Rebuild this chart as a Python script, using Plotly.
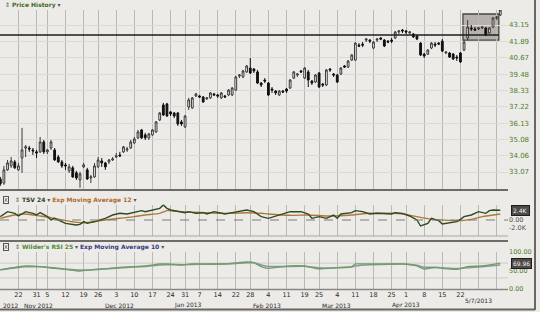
import math
import pandas as pd
import plotly.graph_objects as go

# ---------------- data ----------------
holidays = ["2012-10-29", "2012-10-30", "2012-11-22", "2012-12-25",
            "2013-01-01", "2013-01-21", "2013-02-18", "2013-03-29"]
dates = [d.strftime("%Y-%m-%d") for d in pd.bdate_range("2012-10-15", "2013-05-07")
         if d.strftime("%Y-%m-%d") not in holidays]

opens = [32.66, 32.42, 33.20, 33.44, 33.68, 33.20, 33.92, 34.54, 34.54, 34.42,
         34.30, 34.30, 34.92, 34.30, 34.54, 34.42, 33.98, 33.68, 33.50, 33.14,
         33.32, 33.02, 32.60, 33.38, 33.20, 32.72, 32.78, 33.38, 33.74, 33.62,
         33.68, 33.80, 33.98, 34.11, 34.30, 34.42, 34.54, 34.86, 35.18, 35.69,
         35.37, 35.18, 35.37, 35.56, 36.34, 37.34, 37.41, 36.87, 36.80, 36.80,
         36.21, 35.88, 37.20, 37.14, 37.95, 37.95, 37.88, 37.75, 37.82, 38.09,
         38.02, 37.82, 37.95, 38.02, 38.02, 38.36, 39.35, 39.28, 39.64, 39.92,
         39.85, 39.64, 38.85, 39.06, 38.85, 38.43, 38.29, 38.02, 38.29, 38.43,
         38.50, 39.20, 39.42, 39.71, 39.20, 39.64, 38.99, 38.92, 39.56, 38.78,
         38.71, 39.85, 39.49, 39.42, 39.49, 40.07, 39.99, 40.50, 40.50, 41.61,
         41.69, 41.99, 41.99, 41.39, 41.99, 42.15, 41.99, 41.91, 41.99, 42.15,
         42.61, 42.76, 42.69, 42.53, 42.46, 42.30, 41.76, 40.94, 40.94, 41.39,
         41.69, 41.76, 41.91, 41.02, 41.02, 40.94, 40.72, 41.02, 41.24, 42.15,
         42.92, 42.84, 42.84, 42.92, 42.92, 42.53, 42.99, 43.70, 43.94]
highs = [32.78, 33.44, 33.80, 33.98, 33.80, 33.62, 35.82, 34.73, 34.67, 34.54,
         34.42, 35.24, 35.05, 34.48, 35.05, 34.54, 34.11, 33.80, 33.62, 33.56,
         33.44, 33.14, 33.08, 33.62, 33.32, 32.90, 33.62, 33.98, 33.92, 33.68,
         33.86, 33.98, 34.23, 34.30, 34.67, 34.61, 35.05, 35.24, 35.69, 35.75,
         35.50, 35.50, 35.75, 36.27, 36.87, 37.48, 37.48, 36.93, 36.87, 36.87,
         36.34, 36.67, 37.82, 37.88, 38.16, 38.02, 37.95, 37.88, 38.22, 38.16,
         38.09, 38.22, 38.02, 38.43, 38.57, 39.35, 39.49, 39.78, 40.14, 40.65,
         39.92, 39.78, 38.92, 39.20, 38.92, 38.57, 38.36, 38.36, 38.36, 38.50,
         39.13, 39.71, 39.56, 39.78, 39.99, 39.78, 39.06, 39.49, 39.64, 38.85,
         39.85, 39.92, 39.56, 39.49, 39.99, 40.14, 40.50, 40.94, 41.84, 41.76,
         41.84, 42.15, 42.07, 41.91, 42.15, 42.22, 42.07, 41.99, 42.15, 42.69,
         42.76, 42.84, 42.76, 42.69, 42.53, 42.38, 41.84, 41.02, 41.31, 41.84,
         41.84, 41.84, 42.07, 41.16, 41.09, 41.02, 40.87, 41.09, 41.99, 43.54,
         43.15, 42.99, 42.99, 43.07, 42.99, 42.99, 43.78, 43.86, 44.42]
lows = [32.25, 32.31, 33.14, 33.32, 33.26, 33.14, 33.02, 33.98, 34.30, 34.11,
        33.92, 34.23, 34.17, 34.17, 34.42, 33.74, 33.62, 33.32, 33.20, 33.02,
        32.72, 32.60, 32.14, 33.32, 32.60, 32.42, 32.72, 33.32, 33.38, 33.20,
        33.56, 33.74, 33.92, 33.98, 34.23, 34.30, 34.48, 34.80, 35.11, 35.11,
        35.05, 35.05, 35.31, 35.50, 36.27, 36.60, 36.54, 36.60, 36.47, 35.95,
        35.95, 35.82, 37.00, 37.07, 37.88, 37.82, 37.48, 37.68, 37.75, 37.95,
        37.82, 37.75, 37.82, 37.95, 37.95, 38.29, 39.20, 39.20, 39.56, 39.49,
        39.56, 38.78, 38.57, 38.85, 37.95, 38.16, 38.02, 37.95, 38.16, 38.16,
        38.43, 39.13, 39.28, 39.56, 39.13, 38.57, 38.71, 38.85, 38.50, 38.57,
        38.64, 39.64, 39.28, 38.85, 39.42, 39.92, 39.92, 40.43, 40.43, 41.46,
        41.46, 41.84, 41.76, 41.31, 41.84, 41.99, 41.46, 41.76, 41.76, 42.07,
        42.46, 42.53, 42.46, 42.46, 42.15, 41.99, 40.80, 40.65, 40.87, 41.31,
        41.46, 41.61, 41.09, 40.94, 40.65, 40.50, 40.43, 40.29, 41.16, 41.99,
        42.69, 42.69, 42.76, 42.84, 42.30, 42.46, 42.92, 43.54, 43.86]
closes = [32.37, 33.20, 33.62, 33.74, 33.32, 33.44, 34.42, 34.61, 34.48, 34.36,
          34.23, 34.92, 34.30, 34.42, 34.92, 33.80, 33.68, 33.44, 33.44, 33.38,
          32.78, 32.72, 32.96, 33.50, 32.66, 32.78, 33.44, 33.80, 33.62, 33.38,
          33.80, 33.86, 34.05, 34.05, 34.61, 34.48, 34.92, 35.11, 35.56, 35.18,
          35.18, 35.43, 35.69, 36.21, 36.80, 36.67, 36.60, 36.74, 36.60, 36.08,
          36.08, 36.60, 37.68, 37.82, 38.09, 37.88, 37.54, 37.82, 38.16, 38.02,
          37.95, 38.16, 37.88, 38.36, 38.50, 39.28, 39.42, 39.71, 40.07, 39.56,
          39.71, 38.85, 38.71, 38.99, 38.02, 38.36, 38.16, 38.29, 38.22, 38.29,
          39.06, 39.64, 39.49, 39.64, 39.92, 39.06, 38.85, 39.42, 38.57, 38.71,
          39.78, 39.78, 39.42, 38.92, 39.92, 39.99, 40.43, 40.87, 41.76, 41.54,
          41.61, 42.07, 41.91, 41.84, 42.07, 42.07, 41.54, 41.84, 41.91, 42.61,
          42.69, 42.69, 42.61, 42.61, 42.23, 42.07, 40.87, 40.80, 41.24, 41.76,
          41.61, 41.69, 41.16, 41.09, 40.72, 40.58, 40.65, 40.36, 41.84, 42.99,
          42.84, 42.76, 42.92, 42.99, 42.38, 42.92, 43.70, 43.78, 44.34]

price_ticks = [33.07, 34.06, 35.08, 36.13, 37.22, 38.33, 39.48, 40.67, 41.89, 43.15]
resistance_level = 42.38
box_idx = (127.7, 137.6)
box_price = (41.99, 44.02)

# TSV 24 (thousands) and its 12-period EMA, sampled at trading-day indices
tsv_idx = [0, 2, 4, 5, 7, 9, 10, 11, 13, 14, 15, 17, 18, 21, 22, 23, 24, 26, 28, 29,
           31, 33, 35, 37, 39, 40, 42, 44, 45, 46, 47, 49, 51, 52, 54, 56, 57, 59, 61, 62,
           64, 66, 68, 70, 72, 74, 77, 80, 83, 85, 86, 88, 90, 92, 93, 94, 97, 98, 100, 102,
           104, 106, 108, 109, 111, 113, 115, 116, 118, 119, 121, 122, 124, 126, 127, 128,
           130, 132, 134, 135, 136, 138]
tsv_k = [0.83, 2.08, 1.67, 1.0, 2.08, 1.67, 1.25, 1.83, 0.83, 0.0,
         0.42, -0.42, -0.83, -1.25, -1.08, -0.42, -0.83, -0.42, 0.17, 0.42,
         1.25, 1.67, 1.5, 1.83, 2.33, 2.08, 2.5, 2.92, 3.75, 2.92,
         2.5, 2.08, 1.83, 2.08, 1.67, 1.83, 1.5, 2.08, 1.67, 1.5,
         1.83, 2.08, 2.5, 2.08, 0.83, 0.42, 1.25, 2.08, 2.08, 1.5,
         0.42, 0.83, 0.42, 1.25, 0.42, 1.5, 1.83, 2.33, 2.08, 1.5,
         1.67, 1.5, 1.5, 1.83, 1.67, 1.0, 0.0, -1.5, -0.83, 0.42,
         -0.17, -1.0, -0.67, -0.42, 0.17, 0.83, 1.25, 2.08, 1.67, 2.33,
         2.5, 2.45]
tsv_ema_idx = [0, 4, 7, 11, 15, 18, 22, 26, 29, 33, 37, 40, 44, 46, 50, 53, 57, 61,
               64, 68, 72, 74, 80, 85, 91, 97, 102, 108, 111, 115, 119, 122, 126, 130, 133, 138]
tsv_ema_k = [0.42, 1.25, 1.5, 1.0, 0.42, -0.17, -0.67, -0.42, 0.0, 0.42,
             0.83, 1.25, 1.67, 2.33, 2.08, 1.92, 1.83, 1.67, 1.67, 1.83,
             1.67, 1.5, 1.17, 1.25, 1.0, 1.25, 1.67, 1.67, 1.5, 0.83,
             0.17, 0.0, -0.17, 0.17, 0.83, 1.5]
tsv_last_label = "2.4K"

# Wilder's RSI 25 and its 10-period EMA
rsi_idx = [0, 4, 7, 11, 15, 18, 22, 26, 29, 33, 37, 40, 44, 46, 50, 53, 57, 61, 64, 68,
           70, 72, 74, 80, 84, 88, 93, 97, 98, 102, 108, 111, 115, 117, 120, 122, 126, 129, 133, 138]
rsi_vals = [51.4, 58.6, 62.2, 60.4, 55.9, 53.2, 48.6, 53.2, 55.0, 58.6,
            60.4, 62.2, 67.6, 67.6, 64.9, 67.6, 67.6, 67.6, 69.4, 73.0,
            71.2, 60.4, 55.9, 62.2, 62.2, 54.1, 57.7, 60.4, 67.6, 67.6,
            67.6, 67.6, 62.2, 54.1, 58.6, 55.9, 53.2, 60.4, 62.2, 69.96]
rsi_ema_vals = [52, 57, 60, 60, 57, 54, 51, 52, 54, 57,
                59.5, 61, 65, 66, 65.5, 66.5, 67, 67.5, 68.5, 71,
                71, 65, 61, 61, 61.5, 57, 57.5, 59.5, 62, 65.5,
                67, 67.5, 64, 59, 58.5, 57.5, 55, 57.5, 60.5, 65]
rsi_last_label = "69.96"

week_dates = ["2012-10-22", "2012-10-31", "2012-11-05", "2012-11-12", "2012-11-19", "2012-11-26",
              "2012-12-03", "2012-12-10", "2012-12-17", "2012-12-24", "2012-12-31", "2013-01-07",
              "2013-01-14", "2013-01-22", "2013-01-28", "2013-02-04", "2013-02-11", "2013-02-19",
              "2013-02-25", "2013-03-04", "2013-03-11", "2013-03-18", "2013-03-25", "2013-04-01",
              "2013-04-08", "2013-04-15", "2013-04-22", "2013-04-29", "2013-05-06"]
week_labels = ["22", "31", "5", "12", "19", "26", "3", "10", "17", "24", "31", "7", "14", "22",
               "28", "4", "11", "19", "25", "4", "11", "18", "25", "1", "8", "15", "22", "", ""]
month_labels = ["Nov 2012", "Dec 2012", "Jan 2013", "Feb 2013", "Mar 2013", "Apr 2013"]
month_px = [38, 119, 188, 267, 336, 406]
first_year_label = "2012"
current_date_label = "5/7/2013"

# ---------------- layout helpers ----------------
W, H = 540, 312
PW = 508  # plot area width


def py(p):
    return 1 - p / H


def px(p):
    return p / PW


BG = "#ecebe8"
FONT = "DejaVu Sans"
GRIDV = "#bcb9b5"
GREEN = "#4f7d2e"

fig = go.Figure()

fig.add_trace(go.Candlestick(
    x=dates, open=opens, high=highs, low=lows, close=closes,
    increasing=dict(fillcolor="#f6f5f3", line=dict(color="#3a3a3a", width=1)),
    decreasing=dict(fillcolor="#111111", line=dict(color="#111111", width=1)),
    whiskerwidth=0, xaxis="x", yaxis="y", showlegend=False, hoverinfo="skip"))

fig.add_trace(go.Scatter(x=[dates[i] for i in tsv_ema_idx], y=tsv_ema_k, mode="lines",
                         line=dict(color="#b07838", width=1.4, shape="spline", smoothing=0.6),
                         xaxis="x2", yaxis="y2", showlegend=False))
fig.add_trace(go.Scatter(x=[dates[i] for i in tsv_idx], y=tsv_k, mode="lines",
                         line=dict(color="#2f4a22", width=1.4),
                         xaxis="x2", yaxis="y2", showlegend=False))

fig.add_trace(go.Scatter(x=[dates[i] for i in rsi_idx], y=rsi_ema_vals, mode="lines",
                         line=dict(color="#8d979b", width=1.6, shape="spline", smoothing=0.6),
                         xaxis="x3", yaxis="y3", showlegend=False))
fig.add_trace(go.Scatter(x=[dates[i] for i in rsi_idx], y=rsi_vals, mode="lines",
                         line=dict(color="#6f9e69", width=1.3, shape="spline", smoothing=0.4),
                         xaxis="x3", yaxis="y3", showlegend=False))

xcommon = dict(type="category", categoryorder="array", categoryarray=dates,
               tickvals=week_dates, showgrid=True, gridcolor=GRIDV, gridwidth=1,
               zeroline=False, showline=False, ticks="", fixedrange=True)

fig.update_layout(
    width=W, height=H, margin=dict(l=0, r=W - PW, t=0, b=0, autoexpand=False),
    paper_bgcolor=BG, plot_bgcolor=BG,
    font=dict(family=FONT, size=7, color="#333"),
    xaxis=dict(domain=[0, 1], anchor="y", range=[-0.08, 140.13], showticklabels=False,
               rangeslider=dict(visible=False), **xcommon),
    xaxis2=dict(domain=[0, 1], anchor="y2", matches="x", showticklabels=False, **xcommon),
    xaxis3=dict(domain=[0, 1], anchor="y3", matches="x", ticktext=week_labels,
                tickfont=dict(size=6.5, color="#2a2a2a", family=FONT), tickangle=0, **xcommon),
    yaxis=dict(domain=[py(189), py(10)], type="log",
               range=[math.log10(32.07), math.log10(44.34)], side="right",
               tickvals=price_ticks, ticktext=[f"{v:.2f}" for v in price_ticks],
               tickfont=dict(size=7, color=GREEN, family=FONT),
               showgrid=True, gridcolor="#dddbd7", zeroline=False, ticks="", fixedrange=True),
    yaxis2=dict(domain=[py(236), py(204.6)], range=[-4.0, 3.85], side="right",
                tickvals=[0, -2], ticktext=["0.00", "-2.0K"],
                tickfont=dict(size=6.5, color="#555", family=FONT),
                showgrid=False, zeroline=False, ticks="", fixedrange=True),
    yaxis3=dict(domain=[py(289), py(252)], range=[0, 100], side="right",
                tickvals=[0, 50, 100], ticktext=["0.00", "50.00", "100.00"],
                tickfont=dict(size=6.5, color=GREEN, family=FONT),
                showgrid=False, zeroline=False, ticks="", fixedrange=True),
)

shapes = []
# price panel: resistance line and highlight box
shapes.append(dict(type="line", xref="x", yref="y", x0=-0.1, x1=box_idx[1],
                   y0=resistance_level, y1=resistance_level,
                   line=dict(color="#1e1e1e", width=1.5)))
shapes.append(dict(type="rect", xref="x", yref="y", x0=box_idx[0], x1=box_idx[1],
                   y0=box_price[0], y1=box_price[1],
                   fillcolor="rgba(95,85,75,0.38)", line=dict(color="#4a4540", width=1.3),
                   layer="below"))
# TSV zero line
shapes.append(dict(type="line", xref="paper", yref="y2", x0=0, x1=1, y0=0, y1=0,
                   line=dict(color="#7d7a76", width=1, dash="dash")))
# RSI guide lines
for lv in (30, 70):
    shapes.append(dict(type="line", xref="paper", yref="y3", x0=0, x1=1, y0=lv, y1=lv,
                       line=dict(color="#cfccc8", width=1), layer="below"))
# panel separators
for yy, col, wd in [(190, "#6f6b67", 2), (236, "#a9a6a2", 1), (241, "#6f6b67", 2), (289.5, "#8a8783", 1.5)]:
    shapes.append(dict(type="line", xref="paper", yref="paper", x0=0, x1=1,
                       y0=py(yy), y1=py(yy), line=dict(color=col, width=wd)))
# screenshot frame shadow
shapes.append(dict(type="line", xref="paper", yref="paper", x0=px(535), x1=px(535),
                   y0=py(0), y1=py(310), line=dict(color="#6a6663", width=2)))
shapes.append(dict(type="line", xref="paper", yref="paper", x0=px(0), x1=px(535),
                   y0=py(309.5), y1=py(309.5), line=dict(color="#6a6663", width=2)))
fig.update_layout(shapes=shapes)

ann = []


def header(x, y, html):
    ann.append(dict(xref="paper", yref="paper", x=px(x), y=py(y), xanchor="left",
                    yanchor="middle", showarrow=False, text=html,
                    font=dict(family=FONT, size=6, color="#555")))


header(3, 5, "⇕ <b><span style='color:#3f6a22'>Price History</span></b> ▾")
header(13, 200, "⇕ <b><span style='color:#2e3b26'>TSV 24</span></b> ▾ "
               "<b><span style='color:#b06a2a'>Exp Moving Average 12</span></b> ▾")
header(13, 247, "⇕ <b><span style='color:#4c8a36'>Wilder's RSI 25</span></b> ▾ "
               "<b><span style='color:#3a3a82'>Exp Moving Average 10</span></b> ▾")
for yy in (200, 247):
    ann.append(dict(xref="paper", yref="paper", x=px(3), y=py(yy), xanchor="left",
                    yanchor="middle", showarrow=False, text="X",
                    font=dict(family=FONT, size=5.5, color="#333"),
                    bordercolor="#555", borderwidth=1, borderpad=0, bgcolor="#f4f3f1"))

ann.append(dict(xref="paper", yref="paper", x=px(0.5), y=py(305), xanchor="left",
                yanchor="middle", showarrow=False, text=first_year_label,
                font=dict(family=FONT, size=6, color="#2a2a2a")))
for lab, mx in zip(month_labels, month_px):
    ann.append(dict(xref="paper", yref="paper", x=px(mx), y=py(305), xanchor="center",
                    yanchor="middle", showarrow=False, text=lab,
                    font=dict(family=FONT, size=6, color="#2a2a2a")))
ann.append(dict(xref="paper", yref="paper", x=px(478), y=py(300), xanchor="center",
                yanchor="middle", showarrow=False, text=current_date_label,
                font=dict(family=FONT, size=6, color="#2a2a2a")))

# current value boxes
ann.append(dict(xref="paper", yref="y2", x=px(511), y=2.45, xanchor="left", yanchor="middle",
                showarrow=False, text=tsv_last_label, bgcolor="#4d4a47", bordercolor="#1e1e1e",
                borderwidth=1, borderpad=1, font=dict(family=FONT, size=6, color="#f2f2f2")))
ann.append(dict(xref="paper", yref="y3", x=px(511), y=69.96, xanchor="left", yanchor="middle",
                showarrow=False, text=rsi_last_label, bgcolor="#4d4a47", bordercolor="#1e1e1e",
                borderwidth=1, borderpad=1, font=dict(family=FONT, size=6, color="#f2f2f2")))
fig.update_layout(annotations=ann)

fig.write_html("out.html")
